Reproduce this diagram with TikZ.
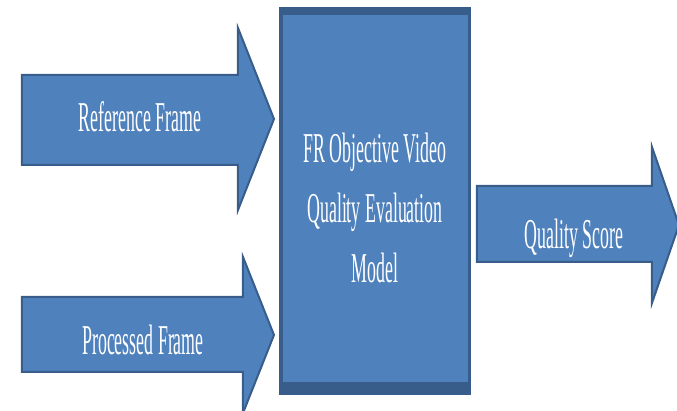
\documentclass[tikz,border=0pt]{standalone}
\usepackage{fontspec}
\setmainfont{Liberation Serif}
\usepackage{graphicx}
\usetikzlibrary{positioning}
\definecolor{boxblue}{HTML}{4F81BD}
\definecolor{edgeblue}{HTML}{385D8A}
\tikzset{
    blockarrow/.style={fill=boxblue, draw=edgeblue, line width=1pt, line join=miter},
    lbltext/.style={text=white, inner sep=0pt, anchor=base, font=\fontsize{21.25}{30}\selectfont},
}
\newcommand{\squeeze}[1]{\scalebox{0.42}[1]{#1}}

\begin{document}
\begin{tikzpicture}[x=0.5pt, y=-0.5pt]
\useasboundingbox (0,0) rectangle (677,411);

% input arrows
\filldraw[blockarrow] (22,75) -- (238,75) -- (238,28) -- (274,119) -- (238,210) -- (238,165) -- (22,165) -- cycle;
\filldraw[blockarrow] (22,297) -- (243,297) -- (243,257) -- (274,335) -- (243,413) -- (243,372) -- (22,372) -- cycle;

% model box, dark frame first
\fill[edgeblue] (279,7) rectangle (471,395);
\fill[boxblue] (283,15) rectangle (468,382);

% output arrow
\filldraw[blockarrow] (477,186) -- (652,186) -- (652,147) -- (679,225) -- (652,303) -- (652,262) -- (477,262) -- cycle;

\node[lbltext] (reflabel) at (140,132) {\squeeze{Reference Frame}};
\node[lbltext] (proclabel) at (143,355) {\squeeze{Processed Frame}};
\node[lbltext] (modellabel) at (375,163) {\squeeze{\begin{tabular}[t]{@{}c@{}}FR Objective Video\\Quality Evaluation\\Model\end{tabular}}};
\node[lbltext] (scorelabel) at (574,249) {\squeeze{Quality Score}};
\end{tikzpicture}
\end{document}
